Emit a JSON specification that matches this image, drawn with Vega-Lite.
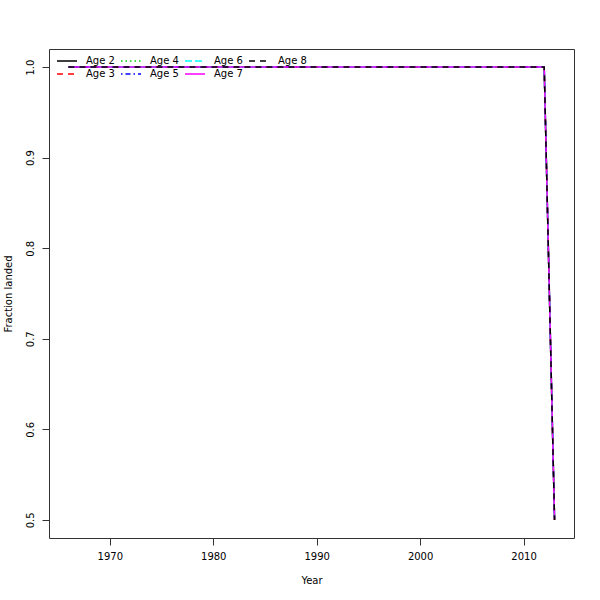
{
  "$schema": "https://vega.github.io/schema/vega-lite/v6.json",
  "width": 525,
  "height": 489,
  "autosize": {"type": "none"},
  "padding": {"left": 49, "top": 49, "right": 26, "bottom": 62},
  "background": "white",
  "config": {
    "view": {"stroke": "#333333", "strokeWidth": 1},
    "font": "DejaVu Sans",
    "axis": {"grid": false, "domain": false, "tickColor": "#333333", "tickSize": 7, "labelFontSize": 10, "titleFontSize": 10, "labelColor": "black", "titleColor": "black", "titleFontWeight": "normal", "labelFont": "DejaVu Sans", "titleFont": "DejaVu Sans"}
  },
  "data": {
    "values": [
      {"Year": 1966, "Age 2": 1, "Age 3": 1, "Age 4": 1, "Age 5": 1, "Age 6": 1, "Age 7": 1, "Age 8": 1},
      {"Year": 1967, "Age 2": 1, "Age 3": 1, "Age 4": 1, "Age 5": 1, "Age 6": 1, "Age 7": 1, "Age 8": 1},
      {"Year": 1968, "Age 2": 1, "Age 3": 1, "Age 4": 1, "Age 5": 1, "Age 6": 1, "Age 7": 1, "Age 8": 1},
      {"Year": 1969, "Age 2": 1, "Age 3": 1, "Age 4": 1, "Age 5": 1, "Age 6": 1, "Age 7": 1, "Age 8": 1},
      {"Year": 1970, "Age 2": 1, "Age 3": 1, "Age 4": 1, "Age 5": 1, "Age 6": 1, "Age 7": 1, "Age 8": 1},
      {"Year": 1971, "Age 2": 1, "Age 3": 1, "Age 4": 1, "Age 5": 1, "Age 6": 1, "Age 7": 1, "Age 8": 1},
      {"Year": 1972, "Age 2": 1, "Age 3": 1, "Age 4": 1, "Age 5": 1, "Age 6": 1, "Age 7": 1, "Age 8": 1},
      {"Year": 1973, "Age 2": 1, "Age 3": 1, "Age 4": 1, "Age 5": 1, "Age 6": 1, "Age 7": 1, "Age 8": 1},
      {"Year": 1974, "Age 2": 1, "Age 3": 1, "Age 4": 1, "Age 5": 1, "Age 6": 1, "Age 7": 1, "Age 8": 1},
      {"Year": 1975, "Age 2": 1, "Age 3": 1, "Age 4": 1, "Age 5": 1, "Age 6": 1, "Age 7": 1, "Age 8": 1},
      {"Year": 1976, "Age 2": 1, "Age 3": 1, "Age 4": 1, "Age 5": 1, "Age 6": 1, "Age 7": 1, "Age 8": 1},
      {"Year": 1977, "Age 2": 1, "Age 3": 1, "Age 4": 1, "Age 5": 1, "Age 6": 1, "Age 7": 1, "Age 8": 1},
      {"Year": 1978, "Age 2": 1, "Age 3": 1, "Age 4": 1, "Age 5": 1, "Age 6": 1, "Age 7": 1, "Age 8": 1},
      {"Year": 1979, "Age 2": 1, "Age 3": 1, "Age 4": 1, "Age 5": 1, "Age 6": 1, "Age 7": 1, "Age 8": 1},
      {"Year": 1980, "Age 2": 1, "Age 3": 1, "Age 4": 1, "Age 5": 1, "Age 6": 1, "Age 7": 1, "Age 8": 1},
      {"Year": 1981, "Age 2": 1, "Age 3": 1, "Age 4": 1, "Age 5": 1, "Age 6": 1, "Age 7": 1, "Age 8": 1},
      {"Year": 1982, "Age 2": 1, "Age 3": 1, "Age 4": 1, "Age 5": 1, "Age 6": 1, "Age 7": 1, "Age 8": 1},
      {"Year": 1983, "Age 2": 1, "Age 3": 1, "Age 4": 1, "Age 5": 1, "Age 6": 1, "Age 7": 1, "Age 8": 1},
      {"Year": 1984, "Age 2": 1, "Age 3": 1, "Age 4": 1, "Age 5": 1, "Age 6": 1, "Age 7": 1, "Age 8": 1},
      {"Year": 1985, "Age 2": 1, "Age 3": 1, "Age 4": 1, "Age 5": 1, "Age 6": 1, "Age 7": 1, "Age 8": 1},
      {"Year": 1986, "Age 2": 1, "Age 3": 1, "Age 4": 1, "Age 5": 1, "Age 6": 1, "Age 7": 1, "Age 8": 1},
      {"Year": 1987, "Age 2": 1, "Age 3": 1, "Age 4": 1, "Age 5": 1, "Age 6": 1, "Age 7": 1, "Age 8": 1},
      {"Year": 1988, "Age 2": 1, "Age 3": 1, "Age 4": 1, "Age 5": 1, "Age 6": 1, "Age 7": 1, "Age 8": 1},
      {"Year": 1989, "Age 2": 1, "Age 3": 1, "Age 4": 1, "Age 5": 1, "Age 6": 1, "Age 7": 1, "Age 8": 1},
      {"Year": 1990, "Age 2": 1, "Age 3": 1, "Age 4": 1, "Age 5": 1, "Age 6": 1, "Age 7": 1, "Age 8": 1},
      {"Year": 1991, "Age 2": 1, "Age 3": 1, "Age 4": 1, "Age 5": 1, "Age 6": 1, "Age 7": 1, "Age 8": 1},
      {"Year": 1992, "Age 2": 1, "Age 3": 1, "Age 4": 1, "Age 5": 1, "Age 6": 1, "Age 7": 1, "Age 8": 1},
      {"Year": 1993, "Age 2": 1, "Age 3": 1, "Age 4": 1, "Age 5": 1, "Age 6": 1, "Age 7": 1, "Age 8": 1},
      {"Year": 1994, "Age 2": 1, "Age 3": 1, "Age 4": 1, "Age 5": 1, "Age 6": 1, "Age 7": 1, "Age 8": 1},
      {"Year": 1995, "Age 2": 1, "Age 3": 1, "Age 4": 1, "Age 5": 1, "Age 6": 1, "Age 7": 1, "Age 8": 1},
      {"Year": 1996, "Age 2": 1, "Age 3": 1, "Age 4": 1, "Age 5": 1, "Age 6": 1, "Age 7": 1, "Age 8": 1},
      {"Year": 1997, "Age 2": 1, "Age 3": 1, "Age 4": 1, "Age 5": 1, "Age 6": 1, "Age 7": 1, "Age 8": 1},
      {"Year": 1998, "Age 2": 1, "Age 3": 1, "Age 4": 1, "Age 5": 1, "Age 6": 1, "Age 7": 1, "Age 8": 1},
      {"Year": 1999, "Age 2": 1, "Age 3": 1, "Age 4": 1, "Age 5": 1, "Age 6": 1, "Age 7": 1, "Age 8": 1},
      {"Year": 2000, "Age 2": 1, "Age 3": 1, "Age 4": 1, "Age 5": 1, "Age 6": 1, "Age 7": 1, "Age 8": 1},
      {"Year": 2001, "Age 2": 1, "Age 3": 1, "Age 4": 1, "Age 5": 1, "Age 6": 1, "Age 7": 1, "Age 8": 1},
      {"Year": 2002, "Age 2": 1, "Age 3": 1, "Age 4": 1, "Age 5": 1, "Age 6": 1, "Age 7": 1, "Age 8": 1},
      {"Year": 2003, "Age 2": 1, "Age 3": 1, "Age 4": 1, "Age 5": 1, "Age 6": 1, "Age 7": 1, "Age 8": 1},
      {"Year": 2004, "Age 2": 1, "Age 3": 1, "Age 4": 1, "Age 5": 1, "Age 6": 1, "Age 7": 1, "Age 8": 1},
      {"Year": 2005, "Age 2": 1, "Age 3": 1, "Age 4": 1, "Age 5": 1, "Age 6": 1, "Age 7": 1, "Age 8": 1},
      {"Year": 2006, "Age 2": 1, "Age 3": 1, "Age 4": 1, "Age 5": 1, "Age 6": 1, "Age 7": 1, "Age 8": 1},
      {"Year": 2007, "Age 2": 1, "Age 3": 1, "Age 4": 1, "Age 5": 1, "Age 6": 1, "Age 7": 1, "Age 8": 1},
      {"Year": 2008, "Age 2": 1, "Age 3": 1, "Age 4": 1, "Age 5": 1, "Age 6": 1, "Age 7": 1, "Age 8": 1},
      {"Year": 2009, "Age 2": 1, "Age 3": 1, "Age 4": 1, "Age 5": 1, "Age 6": 1, "Age 7": 1, "Age 8": 1},
      {"Year": 2010, "Age 2": 1, "Age 3": 1, "Age 4": 1, "Age 5": 1, "Age 6": 1, "Age 7": 1, "Age 8": 1},
      {"Year": 2011, "Age 2": 1, "Age 3": 1, "Age 4": 1, "Age 5": 1, "Age 6": 1, "Age 7": 1, "Age 8": 1},
      {"Year": 2012, "Age 2": 1, "Age 3": 1, "Age 4": 1, "Age 5": 1, "Age 6": 1, "Age 7": 1, "Age 8": 1},
      {"Year": 2013, "Age 2": 0.5, "Age 3": 0.5, "Age 4": 0.5, "Age 5": 0.5, "Age 6": 0.5, "Age 7": 0.5, "Age 8": 0.5}
    ]
  },
  "transform": [
    {"fold": ["Age 2", "Age 3", "Age 4", "Age 5", "Age 6", "Age 7", "Age 8"], "as": ["Age", "Fraction"]}
  ],
  "mark": {"type": "line", "strokeWidth": 1.5, "clip": true},
  "encoding": {
    "x": {
      "field": "Year", "type": "quantitative",
      "scale": {"domain": [1964.12, 2014.88], "nice": false, "zero": false},
      "axis": {"values": [1970, 1980, 1990, 2000, 2010], "format": "d", "labelPadding": 6, "title": "Year", "titlePadding": 14}
    },
    "y": {
      "field": "Fraction", "type": "quantitative",
      "scale": {"domain": [0.48, 1.02], "nice": false, "zero": false},
      "axis": {"values": [0.5, 0.6, 0.7, 0.8, 0.9, 1.0], "format": ".1f", "labelAngle": -90, "labelAlign": "center", "labelBaseline": "bottom", "labelPadding": 7, "title": "Fraction landed", "titlePadding": 12}
    },
    "color": {
      "field": "Age", "type": "nominal",
      "scale": {
        "domain": ["Age 2", "Age 3", "Age 4", "Age 5", "Age 6", "Age 7", "Age 8"],
        "range": ["#000000", "#ff0000", "#00cd00", "#0000ff", "#00ffff", "#ff00ff", "#000000"]
      },
      "legend": {
        "orient": "none", "legendX": 7, "legendY": 6, "columns": 4, "title": null,
        "symbolType": "stroke", "symbolSize": 400, "symbolStrokeWidth": 1.5,
        "labelFontSize": 10, "labelFont": "DejaVu Sans", "labelColor": "black", "labelOffset": 8,
        "gridAlign": "all", "columnPadding": 5, "rowPadding": 1, "clipHeight": 12, "padding": 0
      }
    },
    "strokeDash": {
      "field": "Age", "type": "nominal",
      "scale": {
        "domain": ["Age 2", "Age 3", "Age 4", "Age 5", "Age 6", "Age 7", "Age 8"],
        "range": [[1, 0], [6, 5], [1.5, 3], [1.5, 3, 5, 3], [7, 3], [1, 0], [6, 5]]
      }
    }
  }
}
